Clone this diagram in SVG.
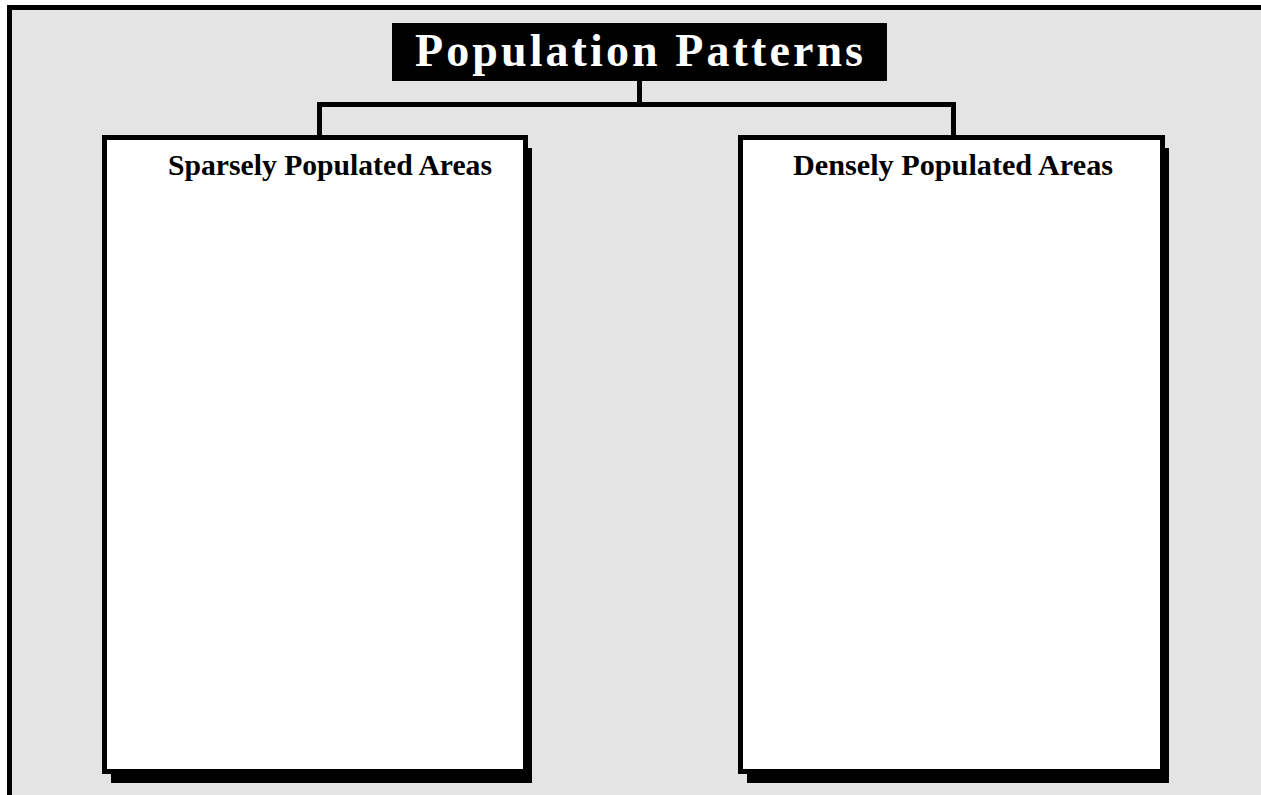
<svg xmlns="http://www.w3.org/2000/svg" width="1261" height="795" viewBox="0 0 1261 795">
<style>
.frame{fill:none;stroke:#000;stroke-width:5}
.shadow{fill:#000}
.box{fill:#fff;stroke:#000;stroke-width:5}
.conn{fill:none;stroke:#000;stroke-width:5}
.head{font-family:"Liberation Serif","Times New Roman",serif;font-weight:bold;font-size:29px;fill:#000}
.title{font-family:"Liberation Serif","Times New Roman",serif;font-weight:bold;font-size:46px;fill:#fff}
</style>
<rect x="0" y="0" width="1261" height="795" fill="#fff"/>
<rect x="12" y="10" width="1249" height="785" fill="#e4e4e4"/>
<path class="frame" d="M9.5 795 V7.5 H1261"/>
<g id="connectors">
<path class="conn" d="M639.5 81 V104.5 M319.5 135 V104.5 H953.5 V135"/>
</g>
<g id="title">
<rect x="392" y="23" width="495" height="58" fill="#000"/>
<text class="title" x="415" y="66" textLength="448" lengthAdjust="spacing">Population Patterns</text>
</g>
<g id="sparse">
<rect class="shadow" x="111" y="148" width="421" height="635"/>
<rect class="box" x="104.5" y="137.5" width="421" height="634"/>
<text class="head" x="168" y="175" textLength="324" lengthAdjust="spacingAndGlyphs">Sparsely Populated Areas</text>
</g>
<g id="dense">
<rect class="shadow" x="747" y="148" width="422" height="635"/>
<rect class="box" x="740.5" y="137.5" width="422" height="634"/>
<text class="head" x="793" y="175" textLength="320" lengthAdjust="spacingAndGlyphs">Densely Populated Areas</text>
</g>
</svg>
